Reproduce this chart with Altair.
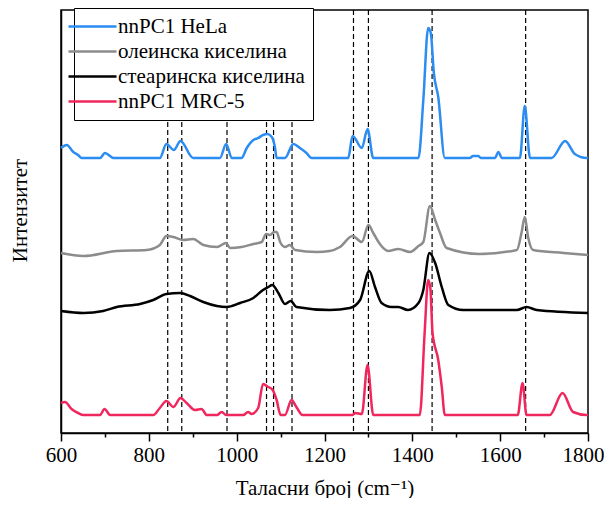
import altair as alt
import pandas as pd

# Raman spectra (wavenumber, relative intensity incl. vertical offset)
hela_x = [600, 613, 628, 639, 647, 689, 700, 720, 825, 840, 857, 872, 901, 962, 976, 989, 1011, 1023, 1038, 1049, 1060, 1070, 1080, 1087, 1091, 1110, 1129, 1144, 1159, 1171, 1254, 1264, 1285, 1298, 1311, 1414, 1425, 1436, 1442, 1449, 1459, 1474, 1531, 1538, 1550, 1556, 1588, 1596, 1604, 1645, 1656, 1668, 1717, 1748, 1770, 1797, 1800]
hela_y = [285, 288, 281, 278, 275, 275, 280, 275, 275, 289, 283, 292, 275, 275, 289, 275, 275, 285, 293, 295, 298, 299, 296, 286, 275, 275, 289, 285, 280, 275, 275, 297, 285, 304, 275, 275, 333, 405, 400, 360, 336, 275, 275, 277, 277, 275, 275, 281, 275, 275, 327, 275, 275, 292, 279, 275, 275]

oleic_x = [600, 651, 727, 795, 825, 840, 856, 878, 901, 924, 955, 976, 985, 1011, 1038, 1057, 1067, 1076, 1085, 1091, 1099, 1110, 1121, 1133, 1182, 1212, 1235, 1264, 1285, 1300, 1311, 1326, 1345, 1368, 1395, 1414, 1425, 1440, 1452, 1463, 1478, 1554, 1638, 1649, 1656, 1664, 1675, 1744, 1800]
oleic_y = [180, 177, 182, 183, 188, 197, 196, 193, 194, 188, 186, 190, 185, 186, 189, 191, 199, 198, 201, 201, 191, 186, 188, 183, 181, 182, 186, 197, 191, 208, 200, 189, 182, 184, 181, 187, 191, 227, 213, 200, 185, 179, 183, 201, 216, 195, 183, 180, 178]

stearic_x = [600, 651, 696, 727, 780, 810, 840, 871, 894, 924, 955, 977, 1008, 1038, 1060, 1072, 1081, 1095, 1110, 1123, 1136, 1212, 1258, 1281, 1302, 1315, 1330, 1353, 1368, 1390, 1414, 1425, 1439, 1452, 1467, 1482, 1516, 1638, 1660, 1683, 1800]
stearic_y = [122, 120, 122, 126, 129, 133, 139, 140, 137, 131, 127, 126, 130, 135, 143, 146, 148, 140, 129, 132, 126, 123, 125, 133, 162, 146, 130, 126, 126, 123, 130, 143, 180, 170, 146, 128, 123, 123, 126, 123, 120]

mrc5_x = [600, 609, 624, 639, 651, 689, 699, 712, 810, 825, 840, 856, 872, 886, 905, 920, 932, 955, 966, 976, 1015, 1026, 1034, 1049, 1060, 1072, 1082, 1091, 1100, 1110, 1125, 1136, 1150, 1264, 1270, 1285, 1298, 1311, 1417, 1428, 1436, 1441, 1446, 1459, 1467, 1474, 1640, 1651, 1660, 1713, 1742, 1766, 1797, 1800]
mrc5_y = [30, 31, 24, 20, 18, 18, 24, 18, 18, 25, 32, 26, 35, 30, 23, 24, 18, 18, 21, 18, 18, 21, 19, 25, 49, 46, 43, 33, 18, 18, 33, 26, 18, 18, 20, 19, 68, 18, 18, 100, 153, 145, 100, 73, 46, 18, 18, 50, 18, 18, 40, 21, 18, 18]

series_names = ["nnPC1 HeLa", "олеинска киселина", "стеаринска киселина", "nnPC1 MRC-5"]
series_colors = ["#2b8cf2", "#8c8c8c", "#000000", "#f0275d"]

marker_lines = [843, 875, 978, 1068, 1084, 1126, 1266, 1300, 1445, 1658]

rows = []
for name, xs, ys in zip(series_names,
                        [hela_x, oleic_x, stearic_x, mrc5_x],
                        [hela_y, oleic_y, stearic_y, mrc5_y]):
    for i, (xv, yv) in enumerate(zip(xs, ys)):
        rows.append({"wn": xv, "I": yv, "series": name, "order": i})
df = pd.DataFrame(rows)
df_lines = pd.DataFrame({"wn": marker_lines})

serif = "Liberation Serif, Times New Roman, Tinos, DejaVu Serif, serif"

x_scale = alt.Scale(domain=[600, 1800], nice=False, zero=False)
y_scale = alt.Scale(domain=[0, 423], nice=False, zero=False)

rules = alt.Chart(df_lines).mark_rule(color="black", strokeDash=[5, 3], strokeWidth=1.2).encode(
    x=alt.X("wn:Q", scale=x_scale)
)

lines = alt.Chart(df).mark_line(strokeWidth=2.5, interpolate="monotone").encode(
    x=alt.X("wn:Q", scale=x_scale,
            axis=alt.Axis(values=list(range(600, 1801, 100)),
                          labelExpr="datum.value % 200 === 0 ? datum.label : ''",
                          tickSize={"condition": {"test": "datum.value % 200 === 0", "value": 8}, "value": 4},
                          labelOffset={"condition": {"test": "datum.value === 1800", "value": -5}, "value": 0},
                          title="Таласни број (cm⁻¹)", grid=False, format="d",
                          labelFont=serif, labelFontSize=21, labelColor="black", labelPadding=3,
                          titleFont=serif, titleFontSize=21, titleFontWeight="normal", titleColor="black",
                          titlePadding=12, domainColor="black", tickColor="black",
                          domainWidth=1.5, tickWidth=1.5, labelOverlap=False, labelFlush=False)),
    y=alt.Y("I:Q", scale=y_scale,
            axis=alt.Axis(title="Интензитет", labels=False, ticks=False, grid=False,
                          domainColor="black", domainWidth=1.5,
                          titleFont=serif, titleFontSize=21, titleFontWeight="normal", titleColor="black",
                          titleX=-31, titleY=200)),
    color=alt.Color("series:N",
                    scale=alt.Scale(domain=series_names, range=series_colors),
                    legend=alt.Legend(title=None, orient="none", legendX=13, legendY=-2,
                                      symbolType="M-4,0H4", symbolSize=144, symbolStrokeWidth=2.5,
                                      labelFont=serif, labelFontSize=21, labelColor="black",
                                      labelOffset=15, labelLimit=400, rowPadding=3, padding=8,
                                      strokeColor="black", fillColor="white", cornerRadius=0)),
    order="order:Q",
)

chart = alt.layer(rules, lines).properties(
    width=527, height=423,
    autosize=alt.AutoSizeParams(type="none"),
    padding={"left": 53, "top": 2, "right": 16, "bottom": 65},
).configure_view(stroke="black", strokeWidth=1.5)

chart.save("out.html", embed_options={"renderer": "svg", "actions": False})
